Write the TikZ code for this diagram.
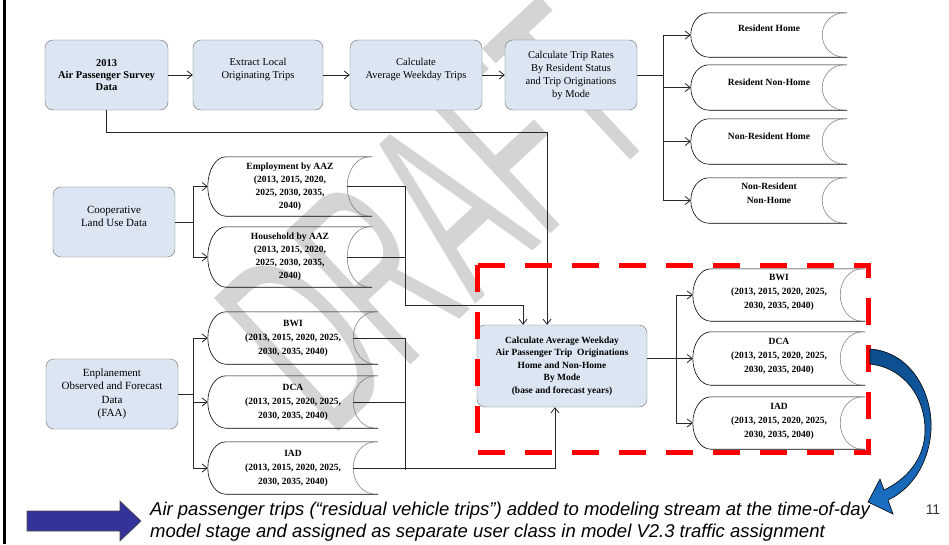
\documentclass[tikz,border=0pt]{standalone}
\usepackage{graphicx}
\usepackage{fontspec}
\setmainfont{Liberation Serif}
\newfontfamily\arialfont{Liberation Sans}
\usetikzlibrary{arrows.meta,calc}

\definecolor{boxfill}{RGB}{220,230,242}
\definecolor{boxline}{RGB}{110,110,110}
\definecolor{arrowblue}{RGB}{51,51,153}
\definecolor{curvetop}{RGB}{12,76,140}
\definecolor{curvebot}{RGB}{28,112,196}
\definecolor{markgray}{RGB}{212,212,212}

\begin{document}
\begin{tikzpicture}[x=1pt, y=1pt,
    proc/.style={draw=boxline, fill=boxfill, rounded corners=8pt, align=center, inner sep=2pt, font=\fontsize{10.5}{13}\selectfont},
    store/.style={align=center, inner sep=0pt, font=\bfseries\fontsize{9.5}{14}\selectfont},
    storeline/.style={draw=black, line width=0.6pt},
    storearc/.style={draw=black!55, line width=0.5pt},
    link/.style={draw=black!85, line width=0.8pt},
    arr/.style={link, -{Straight Barb[length=5pt,width=8pt]}}]
    \useasboundingbox (0,0) rectangle (949,-544);
    \fill[white] (0,0) rectangle (949,-544);
    \draw[line width=3pt] (4,0) -- (4,-544);

    % watermark (behind the boxes)
    \node[font=\arialfont\fontsize{265}{265}\selectfont, text=markgray, rotate=43, anchor=base west, inner sep=0pt] (draft) at (330,-440) {\scalebox{0.52}[1]{DRAFT}};

    % top row of process boxes
    \node[proc, font=\bfseries\fontsize{10.5}{12}\selectfont, minimum width=123pt, minimum height=70pt] (survey) at (106.5,-75) {2013\\Air Passenger Survey\\Data};
    \node[proc, minimum width=130pt, minimum height=70pt, text depth=14pt] (extract) at (258,-75) {Extract Local\\Originating Trips};
    \node[proc, minimum width=132pt, minimum height=70pt, text depth=14pt] (avg) at (416,-75) {Calculate\\Average Weekday Trips};
    \node[proc, minimum width=132pt, minimum height=70pt] (rates) at (571,-75) {Calculate Trip Rates\\By Resident Status\\and Trip Originations\\by Mode};

    % trip rate outputs
    \node[store, minimum width=156pt, minimum height=44pt, text depth=14pt] (resh) at (769,-35) {Resident Home};
    \node[store, minimum width=156pt, minimum height=45pt, text depth=10pt] (resnh) at (769,-87.5) {Resident Non-Home};
    \node[store, minimum width=156pt, minimum height=45pt, text depth=10pt] (nresh) at (769,-141.5) {Non-Resident Home};
    \node[store, minimum width=156pt, minimum height=45pt, text depth=14pt] (nresnh) at (769,-200.5) {Non-Resident\\Non-Home};

    % land use
    \node[proc, font=\fontsize{11}{13.5}\selectfont, minimum width=122pt, minimum height=70pt, text depth=11pt] (landuse) at (114,-222) {Cooperative\\Land Use Data};
    \node[store, font=\bfseries\fontsize{9.5}{13}\selectfont, minimum width=164pt, minimum height=59pt] (emp) at (290,-186.5) {Employment by AAZ\\(2013, 2015, 2020,\\2025, 2030, 2035,\\2040)};
    \node[store, font=\bfseries\fontsize{9.5}{13}\selectfont, minimum width=164pt, minimum height=60pt] (hhold) at (290,-257) {Household by AAZ\\(2013, 2015, 2020,\\2025, 2030, 2035,\\2040)};

    % enplanements
    \node[proc, font=\fontsize{11}{13.5}\selectfont, minimum width=132pt, minimum height=70pt] (enpl) at (112,-394) {Enplanement\\Observed and Forecast\\Data\\(FAA)};
    \node[store, minimum width=170pt, minimum height=52pt] (bwil) at (293,-338) {BWI\\(2013, 2015, 2020, 2025,\\2030, 2035, 2040)};
    \node[store, minimum width=170pt, minimum height=52pt] (dcal) at (293,-402) {DCA\\(2013, 2015, 2020, 2025,\\2030, 2035, 2040)};
    \node[store, minimum width=170pt, minimum height=52pt] (iadl) at (293,-468) {IAD\\(2013, 2015, 2020, 2025,\\2030, 2035, 2040)};

    % weekday originations
    \node[proc, font=\bfseries\fontsize{9.5}{12.5}\selectfont, minimum width=170pt, minimum height=82pt] (calc) at (562,-366) {Calculate Average Weekday\\Air Passenger Trip\ \ Originations\\Home and Non-Home\\By Mode\\(base and forecast years)};
    \node[store, minimum width=172pt, minimum height=52pt, text depth=7pt] (bwir) at (779,-295) {BWI\\(2013, 2015, 2020, 2025,\\2030, 2035, 2040)};
    \node[store, minimum width=172pt, minimum height=53pt, text depth=6pt] (dcar) at (779,-358.5) {DCA\\(2013, 2015, 2020, 2025,\\2030, 2035, 2040)};
    \node[store, minimum width=172pt, minimum height=52pt, text depth=5pt] (iadr) at (779,-423) {IAD\\(2013, 2015, 2020, 2025,\\2030, 2035, 2040)};

    % stored data outlines
    \foreach \s in {resh,resnh,nresh,nresnh,emp,hhold,bwil,dcal,iadl,bwir,dcar,iadr}{
        \draw[storeline] let \p1=(\s.north west), \p2=(\s.south east), \n1={(\y1-\y2)/2} in
            (\x1+18pt,\y1) -- (\x2,\y1) (\x1+18pt,\y2) -- (\x2,\y2)
            (\x1+18pt,\y1) arc[start angle=90, end angle=270, x radius=18pt, y radius=\n1];
        \draw[storearc] let \p1=(\s.north east), \p2=(\s.south east), \n1={(\y1-\y2)/2} in
            (\x1-3pt,\y1) arc[start angle=90, end angle=270, x radius=22pt, y radius=\n1];
    }

    % connectors
    \draw[arr] (survey) -- (extract);
    \draw[arr] (extract) -- (avg);
    \draw[arr] (avg) -- (rates);
    \draw[link] (rates.east) -- ++(26,0) coordinate (tbus);
    \foreach \s in {resh,resnh,nresh,nresnh} \draw[arr] (tbus) |- (\s.west);

    \draw[link] (landuse.east) -- ++(18,0) coordinate (lbus);
    \foreach \s in {emp,hhold} \draw[arr] (lbus) |- (\s.west);
    \draw[link] (enpl.east) -- ++(15,0) coordinate (ebus);
    \foreach \s in {bwil,dcal,iadl} \draw[arr] (ebus) |- (\s.west);

    \coordinate (ljoin) at (405,-305);
    \coordinate (ejoin) at (405,-470);
    \draw[link] ($(emp.east)+(-25,0)$) -| (ljoin);
    \draw[link] ($(hhold.east)+(-25,0)$) -- (hhold.east -| ljoin);
    \draw[arr] (ljoin) -| ([xshift=-39pt]calc.north);
    \draw[arr] (survey.south) -- ++(0,-22) -| ([xshift=-15pt]calc.north);
    \draw[link] ($(bwil.east)+(-25,0)$) -| (ejoin);
    \draw[link] ($(dcal.east)+(-25,0)$) -- (dcal.east -| ejoin);
    \draw[arr] ($(iadl.east)+(-25,0)$) -| ([xshift=-7pt]calc.south);

    \draw[link] (calc.east |- dcar) -- ++(29,0) coordinate (rbus);
    \draw[arr] (rbus) -- (dcar.west);
    \draw[arr] (rbus) |- (bwir.west);
    \draw[arr] (rbus) |- (iadr.west);

    % highlight
    \draw[red, line width=5pt, dash pattern=on 27pt off 20pt] (477,-265) rectangle (868,-452);

    % curved arrow to the note
    \draw[draw=black, line width=0.6pt, top color=curvetop, bottom color=curvebot]
        (870,-349) .. controls (912,-352) and (933,-395) .. (931,-430)
        .. controls (929,-465) and (910,-490) .. (888,-500) -- (893,-514) -- (868,-502) -- (880,-479)
        -- (884,-490) .. controls (905,-480) and (925,-460) .. (925,-430)
        .. controls (925,-398) and (905,-368) .. (870,-364) -- cycle;

    % note
    \draw[fill=arrowblue, draw=black!70, line width=0.6pt] (27,-511) -- (120,-511) -- (120,-501) -- (141,-521) -- (120,-541) -- (120,-531) -- (27,-531) -- cycle;
    \node[anchor=west, align=left, inner sep=0pt, font=\arialfont\itshape\fontsize{18.5}{22}\selectfont] (note) at (150,-522) {Air passenger trips (“residual vehicle trips”) added to modeling stream at the time-of-day\\model stage and assigned as separate user class in model V2.3 traffic assignment};
    \node[font=\arialfont\fontsize{14}{14}\selectfont, text=black!80] (pagenum) at (933,-510) {11};
\end{tikzpicture}
\end{document}
